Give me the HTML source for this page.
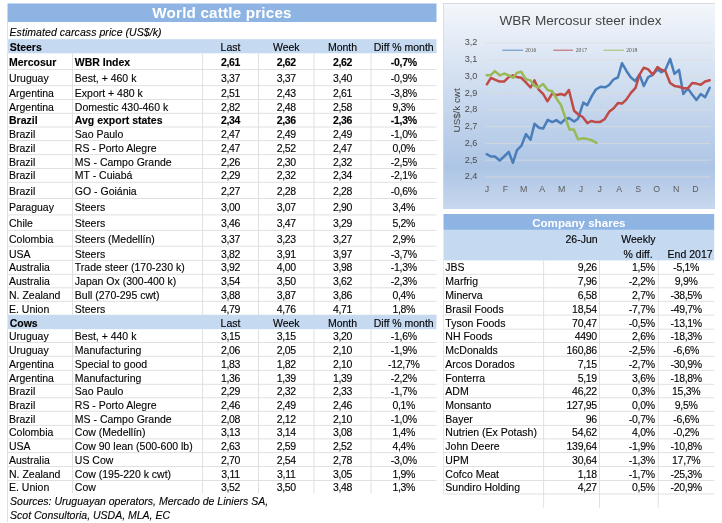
<!DOCTYPE html>
<html><head><meta charset="utf-8"><title>World cattle prices</title>
<style>
html,body{margin:0;padding:0;background:#fff;}
body{width:722px;height:523px;position:relative;overflow:hidden;font-family:"Liberation Sans",sans-serif;font-size:10.5px;color:#000;-webkit-text-stroke:0.2px rgba(0,0,0,0.6);}
#pg{position:absolute;left:0;top:0;width:722px;height:523px;overflow:hidden;filter:blur(0.4px);}
.r{position:absolute;}
#tx{position:absolute;left:0;top:0;width:722px;height:523px;}
.t{position:absolute;white-space:nowrap;}
.b{font-weight:bold;}
.n{letter-spacing:-0.3px;}
.i{font-style:italic;}
.title,.title2{-webkit-text-stroke:0;}
.title{position:absolute;text-align:center;color:#fff;font-weight:bold;font-size:15.2px;letter-spacing:0.2px;line-height:18.5px;height:18.5px;white-space:nowrap;}
.title2{position:absolute;text-align:center;color:#fff;font-weight:bold;font-size:11.6px;line-height:15.9px;height:15.9px;padding-top:0.6px;white-space:nowrap;}
.ax{font-family:"Liberation Sans",sans-serif;font-size:9.1px;fill:#4c4c4c;}
.yt{font-size:9.8px;fill:#444;}
.xl{font-size:8.8px;fill:#5c5c5c;}
.ct{font-family:"Liberation Sans",sans-serif;font-size:13.4px;fill:#454545;}
.lg{font-family:"Liberation Serif",serif;font-size:5.6px;fill:#555;}
</style></head><body><div id="pg">
<svg class="r" style="left:0;top:0" width="722" height="523" viewBox="0 0 722 523"><rect x="7.50" y="3.50" width="429.00" height="18.50" fill="#8db4e2"/>
<rect x="7.50" y="39.20" width="429.00" height="14.10" fill="#c5d9f1"/>
<rect x="7.50" y="69.00" width="429.00" height="1" fill="#dfe0e3"/>
<rect x="7.50" y="85.10" width="429.00" height="1" fill="#dfe0e3"/>
<rect x="7.50" y="99.00" width="429.00" height="1" fill="#dfe0e3"/>
<rect x="7.50" y="112.80" width="429.00" height="1" fill="#dfe0e3"/>
<rect x="7.50" y="126.50" width="429.00" height="1" fill="#dfe0e3"/>
<rect x="7.50" y="140.10" width="429.00" height="1" fill="#dfe0e3"/>
<rect x="7.50" y="154.10" width="429.00" height="1" fill="#dfe0e3"/>
<rect x="7.50" y="168.00" width="429.00" height="1" fill="#dfe0e3"/>
<rect x="7.50" y="181.80" width="429.00" height="1" fill="#dfe0e3"/>
<rect x="7.50" y="198.00" width="429.00" height="1" fill="#dfe0e3"/>
<rect x="7.50" y="214.40" width="429.00" height="1" fill="#dfe0e3"/>
<rect x="7.50" y="229.90" width="429.00" height="1" fill="#dfe0e3"/>
<rect x="7.50" y="245.70" width="429.00" height="1" fill="#dfe0e3"/>
<rect x="7.50" y="259.90" width="429.00" height="1" fill="#dfe0e3"/>
<rect x="7.50" y="273.80" width="429.00" height="1" fill="#dfe0e3"/>
<rect x="7.50" y="287.30" width="429.00" height="1" fill="#dfe0e3"/>
<rect x="7.50" y="300.80" width="429.00" height="1" fill="#dfe0e3"/>
<rect x="7.50" y="314.60" width="429.00" height="1" fill="#dfe0e3"/>
<rect x="7.00" y="53.30" width="1" height="261.80" fill="#dfe0e3"/>
<rect x="72.00" y="53.30" width="1" height="261.80" fill="#dfe0e3"/>
<rect x="202.10" y="53.30" width="1" height="261.80" fill="#dfe0e3"/>
<rect x="258.00" y="53.30" width="1" height="261.80" fill="#dfe0e3"/>
<rect x="313.50" y="53.30" width="1" height="261.80" fill="#dfe0e3"/>
<rect x="370.50" y="53.30" width="1" height="261.80" fill="#dfe0e3"/>
<rect x="7.50" y="315.10" width="429.00" height="14.10" fill="#c5d9f1"/>
<rect x="7.50" y="342.00" width="429.00" height="1" fill="#dfe0e3"/>
<rect x="7.50" y="355.80" width="429.00" height="1" fill="#dfe0e3"/>
<rect x="7.50" y="369.90" width="429.00" height="1" fill="#dfe0e3"/>
<rect x="7.50" y="383.80" width="429.00" height="1" fill="#dfe0e3"/>
<rect x="7.50" y="397.30" width="429.00" height="1" fill="#dfe0e3"/>
<rect x="7.50" y="410.80" width="429.00" height="1" fill="#dfe0e3"/>
<rect x="7.50" y="424.90" width="429.00" height="1" fill="#dfe0e3"/>
<rect x="7.50" y="438.40" width="429.00" height="1" fill="#dfe0e3"/>
<rect x="7.50" y="452.10" width="429.00" height="1" fill="#dfe0e3"/>
<rect x="7.50" y="466.00" width="429.00" height="1" fill="#dfe0e3"/>
<rect x="7.50" y="480.00" width="429.00" height="1" fill="#dfe0e3"/>
<rect x="7.00" y="329.20" width="1" height="164.10" fill="#dfe0e3"/>
<rect x="72.00" y="329.20" width="1" height="164.10" fill="#dfe0e3"/>
<rect x="202.10" y="329.20" width="1" height="164.10" fill="#dfe0e3"/>
<rect x="258.00" y="329.20" width="1" height="164.10" fill="#dfe0e3"/>
<rect x="313.50" y="329.20" width="1" height="164.10" fill="#dfe0e3"/>
<rect x="370.50" y="329.20" width="1" height="164.10" fill="#dfe0e3"/>
<rect x="7.00" y="22.00" width="1" height="17.20" fill="#dfe0e3"/>
<rect x="7.00" y="493.00" width="1" height="29.00" fill="#dfe0e3"/>
<rect x="443.50" y="214.00" width="270.70" height="15.90" fill="#8db4e2"/>
<rect x="443.50" y="229.90" width="270.70" height="30.50" fill="#c5d9f1"/>
<rect x="443.50" y="273.80" width="270.70" height="1" fill="#dfe0e3"/>
<rect x="443.50" y="287.30" width="270.70" height="1" fill="#dfe0e3"/>
<rect x="443.50" y="300.80" width="270.70" height="1" fill="#dfe0e3"/>
<rect x="443.50" y="314.60" width="270.70" height="1" fill="#dfe0e3"/>
<rect x="443.50" y="328.70" width="270.70" height="1" fill="#dfe0e3"/>
<rect x="443.50" y="342.00" width="270.70" height="1" fill="#dfe0e3"/>
<rect x="443.50" y="355.80" width="270.70" height="1" fill="#dfe0e3"/>
<rect x="443.50" y="369.90" width="270.70" height="1" fill="#dfe0e3"/>
<rect x="443.50" y="383.80" width="270.70" height="1" fill="#dfe0e3"/>
<rect x="443.50" y="397.30" width="270.70" height="1" fill="#dfe0e3"/>
<rect x="443.50" y="410.80" width="270.70" height="1" fill="#dfe0e3"/>
<rect x="443.50" y="424.90" width="270.70" height="1" fill="#dfe0e3"/>
<rect x="443.50" y="438.40" width="270.70" height="1" fill="#dfe0e3"/>
<rect x="443.50" y="452.10" width="270.70" height="1" fill="#dfe0e3"/>
<rect x="443.50" y="466.00" width="270.70" height="1" fill="#dfe0e3"/>
<rect x="443.50" y="480.00" width="270.70" height="1" fill="#dfe0e3"/>
<rect x="443.50" y="493.50" width="270.70" height="1" fill="#dfe0e3"/>
<rect x="543.10" y="260.40" width="1" height="247.20" fill="#dfe0e3"/>
<rect x="599.00" y="260.40" width="1" height="247.20" fill="#dfe0e3"/>
<rect x="657.70" y="260.40" width="1" height="247.20" fill="#dfe0e3"/>
<rect x="443.00" y="260.40" width="1" height="233.60" fill="#e6e7ea"/></svg>
<div id="tx"><div class="title" style="left:7.5px;width:429.0px;top:3.5px;">World cattle prices</div>
<div class="t i" style="left:9.50px;text-align:left;top:26.00px;height:12.00px;line-height:12.00px;letter-spacing:0.07px;">Estimated carcass price (US$/k)</div>
<div class="t b" style="left:9.70px;text-align:left;top:41.00px;height:12.00px;line-height:12.00px;">Steers</div>
<div class="t " style="left:202.60px;width:55.90px;text-align:center;top:41.00px;height:12.00px;line-height:12.00px;">Last</div>
<div class="t " style="left:258.50px;width:55.50px;text-align:center;top:41.00px;height:12.00px;line-height:12.00px;">Week</div>
<div class="t " style="left:314.00px;width:57.00px;text-align:center;top:41.00px;height:12.00px;line-height:12.00px;">Month</div>
<div class="t " style="left:371.00px;width:65.50px;text-align:center;top:41.00px;height:12.00px;line-height:12.00px;">Diff % month</div>
<div class="t b" style="left:9.00px;text-align:left;top:56.00px;height:12.00px;line-height:12.00px;">Mercosur</div>
<div class="t b" style="left:74.80px;text-align:left;top:56.00px;height:12.00px;line-height:12.00px;">WBR Index</div>
<div class="t b n" style="left:202.60px;width:55.90px;text-align:center;top:56.00px;height:12.00px;line-height:12.00px;">2,61</div>
<div class="t b n" style="left:258.50px;width:55.50px;text-align:center;top:56.00px;height:12.00px;line-height:12.00px;">2,62</div>
<div class="t b n" style="left:314.00px;width:57.00px;text-align:center;top:56.00px;height:12.00px;line-height:12.00px;">2,62</div>
<div class="t b n" style="left:371.00px;width:65.50px;text-align:center;top:56.00px;height:12.00px;line-height:12.00px;">-0,7%</div>
<div class="t " style="left:9.00px;text-align:left;top:72.00px;height:12.00px;line-height:12.00px;">Uruguay</div>
<div class="t " style="left:74.80px;text-align:left;top:72.00px;height:12.00px;line-height:12.00px;">Best, + 460 k</div>
<div class="t  n" style="left:202.60px;width:55.90px;text-align:center;top:72.00px;height:12.00px;line-height:12.00px;">3,37</div>
<div class="t  n" style="left:258.50px;width:55.50px;text-align:center;top:72.00px;height:12.00px;line-height:12.00px;">3,37</div>
<div class="t  n" style="left:314.00px;width:57.00px;text-align:center;top:72.00px;height:12.00px;line-height:12.00px;">3,40</div>
<div class="t  n" style="left:371.00px;width:65.50px;text-align:center;top:72.00px;height:12.00px;line-height:12.00px;">-0,9%</div>
<div class="t " style="left:9.00px;text-align:left;top:87.00px;height:12.00px;line-height:12.00px;">Argentina</div>
<div class="t " style="left:74.80px;text-align:left;top:87.00px;height:12.00px;line-height:12.00px;">Export + 480 k</div>
<div class="t  n" style="left:202.60px;width:55.90px;text-align:center;top:87.00px;height:12.00px;line-height:12.00px;">2,51</div>
<div class="t  n" style="left:258.50px;width:55.50px;text-align:center;top:87.00px;height:12.00px;line-height:12.00px;">2,43</div>
<div class="t  n" style="left:314.00px;width:57.00px;text-align:center;top:87.00px;height:12.00px;line-height:12.00px;">2,61</div>
<div class="t  n" style="left:371.00px;width:65.50px;text-align:center;top:87.00px;height:12.00px;line-height:12.00px;">-3,8%</div>
<div class="t " style="left:9.00px;text-align:left;top:101.00px;height:12.00px;line-height:12.00px;">Argentina</div>
<div class="t " style="left:74.80px;text-align:left;top:101.00px;height:12.00px;line-height:12.00px;">Domestic 430-460 k</div>
<div class="t  n" style="left:202.60px;width:55.90px;text-align:center;top:101.00px;height:12.00px;line-height:12.00px;">2,82</div>
<div class="t  n" style="left:258.50px;width:55.50px;text-align:center;top:101.00px;height:12.00px;line-height:12.00px;">2,48</div>
<div class="t  n" style="left:314.00px;width:57.00px;text-align:center;top:101.00px;height:12.00px;line-height:12.00px;">2,58</div>
<div class="t  n" style="left:371.00px;width:65.50px;text-align:center;top:101.00px;height:12.00px;line-height:12.00px;">9,3%</div>
<div class="t b" style="left:9.00px;text-align:left;top:114.00px;height:12.00px;line-height:12.00px;">Brazil</div>
<div class="t b" style="left:74.80px;text-align:left;top:114.00px;height:12.00px;line-height:12.00px;">Avg export states</div>
<div class="t b n" style="left:202.60px;width:55.90px;text-align:center;top:114.00px;height:12.00px;line-height:12.00px;">2,34</div>
<div class="t b n" style="left:258.50px;width:55.50px;text-align:center;top:114.00px;height:12.00px;line-height:12.00px;">2,36</div>
<div class="t b n" style="left:314.00px;width:57.00px;text-align:center;top:114.00px;height:12.00px;line-height:12.00px;">2,36</div>
<div class="t b n" style="left:371.00px;width:65.50px;text-align:center;top:114.00px;height:12.00px;line-height:12.00px;">-1,3%</div>
<div class="t " style="left:9.00px;text-align:left;top:128.00px;height:12.00px;line-height:12.00px;">Brazil</div>
<div class="t " style="left:74.80px;text-align:left;top:128.00px;height:12.00px;line-height:12.00px;">Sao Paulo</div>
<div class="t  n" style="left:202.60px;width:55.90px;text-align:center;top:128.00px;height:12.00px;line-height:12.00px;">2,47</div>
<div class="t  n" style="left:258.50px;width:55.50px;text-align:center;top:128.00px;height:12.00px;line-height:12.00px;">2,49</div>
<div class="t  n" style="left:314.00px;width:57.00px;text-align:center;top:128.00px;height:12.00px;line-height:12.00px;">2,49</div>
<div class="t  n" style="left:371.00px;width:65.50px;text-align:center;top:128.00px;height:12.00px;line-height:12.00px;">-1,0%</div>
<div class="t " style="left:9.00px;text-align:left;top:142.00px;height:12.00px;line-height:12.00px;">Brazil</div>
<div class="t " style="left:74.80px;text-align:left;top:142.00px;height:12.00px;line-height:12.00px;">RS - Porto Alegre</div>
<div class="t  n" style="left:202.60px;width:55.90px;text-align:center;top:142.00px;height:12.00px;line-height:12.00px;">2,47</div>
<div class="t  n" style="left:258.50px;width:55.50px;text-align:center;top:142.00px;height:12.00px;line-height:12.00px;">2,52</div>
<div class="t  n" style="left:314.00px;width:57.00px;text-align:center;top:142.00px;height:12.00px;line-height:12.00px;">2,47</div>
<div class="t  n" style="left:371.00px;width:65.50px;text-align:center;top:142.00px;height:12.00px;line-height:12.00px;">0,0%</div>
<div class="t " style="left:9.00px;text-align:left;top:156.00px;height:12.00px;line-height:12.00px;">Brazil</div>
<div class="t " style="left:74.80px;text-align:left;top:156.00px;height:12.00px;line-height:12.00px;">MS - Campo Grande</div>
<div class="t  n" style="left:202.60px;width:55.90px;text-align:center;top:156.00px;height:12.00px;line-height:12.00px;">2,26</div>
<div class="t  n" style="left:258.50px;width:55.50px;text-align:center;top:156.00px;height:12.00px;line-height:12.00px;">2,30</div>
<div class="t  n" style="left:314.00px;width:57.00px;text-align:center;top:156.00px;height:12.00px;line-height:12.00px;">2,32</div>
<div class="t  n" style="left:371.00px;width:65.50px;text-align:center;top:156.00px;height:12.00px;line-height:12.00px;">-2,5%</div>
<div class="t " style="left:9.00px;text-align:left;top:169.00px;height:12.00px;line-height:12.00px;">Brazil</div>
<div class="t " style="left:74.80px;text-align:left;top:169.00px;height:12.00px;line-height:12.00px;">MT - Cuiabá</div>
<div class="t  n" style="left:202.60px;width:55.90px;text-align:center;top:169.00px;height:12.00px;line-height:12.00px;">2,29</div>
<div class="t  n" style="left:258.50px;width:55.50px;text-align:center;top:169.00px;height:12.00px;line-height:12.00px;">2,32</div>
<div class="t  n" style="left:314.00px;width:57.00px;text-align:center;top:169.00px;height:12.00px;line-height:12.00px;">2,34</div>
<div class="t  n" style="left:371.00px;width:65.50px;text-align:center;top:169.00px;height:12.00px;line-height:12.00px;">-2,1%</div>
<div class="t " style="left:9.00px;text-align:left;top:185.00px;height:12.00px;line-height:12.00px;">Brazil</div>
<div class="t " style="left:74.80px;text-align:left;top:185.00px;height:12.00px;line-height:12.00px;">GO - Goiánia</div>
<div class="t  n" style="left:202.60px;width:55.90px;text-align:center;top:185.00px;height:12.00px;line-height:12.00px;">2,27</div>
<div class="t  n" style="left:258.50px;width:55.50px;text-align:center;top:185.00px;height:12.00px;line-height:12.00px;">2,28</div>
<div class="t  n" style="left:314.00px;width:57.00px;text-align:center;top:185.00px;height:12.00px;line-height:12.00px;">2,28</div>
<div class="t  n" style="left:371.00px;width:65.50px;text-align:center;top:185.00px;height:12.00px;line-height:12.00px;">-0,6%</div>
<div class="t " style="left:9.00px;text-align:left;top:201.00px;height:12.00px;line-height:12.00px;">Paraguay</div>
<div class="t " style="left:74.80px;text-align:left;top:201.00px;height:12.00px;line-height:12.00px;">Steers</div>
<div class="t  n" style="left:202.60px;width:55.90px;text-align:center;top:201.00px;height:12.00px;line-height:12.00px;">3,00</div>
<div class="t  n" style="left:258.50px;width:55.50px;text-align:center;top:201.00px;height:12.00px;line-height:12.00px;">3,07</div>
<div class="t  n" style="left:314.00px;width:57.00px;text-align:center;top:201.00px;height:12.00px;line-height:12.00px;">2,90</div>
<div class="t  n" style="left:371.00px;width:65.50px;text-align:center;top:201.00px;height:12.00px;line-height:12.00px;">3,4%</div>
<div class="t " style="left:9.00px;text-align:left;top:217.00px;height:12.00px;line-height:12.00px;">Chile</div>
<div class="t " style="left:74.80px;text-align:left;top:217.00px;height:12.00px;line-height:12.00px;">Steers</div>
<div class="t  n" style="left:202.60px;width:55.90px;text-align:center;top:217.00px;height:12.00px;line-height:12.00px;">3,46</div>
<div class="t  n" style="left:258.50px;width:55.50px;text-align:center;top:217.00px;height:12.00px;line-height:12.00px;">3,47</div>
<div class="t  n" style="left:314.00px;width:57.00px;text-align:center;top:217.00px;height:12.00px;line-height:12.00px;">3,29</div>
<div class="t  n" style="left:371.00px;width:65.50px;text-align:center;top:217.00px;height:12.00px;line-height:12.00px;">5,2%</div>
<div class="t " style="left:9.00px;text-align:left;top:233.00px;height:12.00px;line-height:12.00px;">Colombia</div>
<div class="t " style="left:74.80px;text-align:left;top:233.00px;height:12.00px;line-height:12.00px;">Steers (Medellín)</div>
<div class="t  n" style="left:202.60px;width:55.90px;text-align:center;top:233.00px;height:12.00px;line-height:12.00px;">3,37</div>
<div class="t  n" style="left:258.50px;width:55.50px;text-align:center;top:233.00px;height:12.00px;line-height:12.00px;">3,23</div>
<div class="t  n" style="left:314.00px;width:57.00px;text-align:center;top:233.00px;height:12.00px;line-height:12.00px;">3,27</div>
<div class="t  n" style="left:371.00px;width:65.50px;text-align:center;top:233.00px;height:12.00px;line-height:12.00px;">2,9%</div>
<div class="t " style="left:9.00px;text-align:left;top:248.00px;height:12.00px;line-height:12.00px;">USA</div>
<div class="t " style="left:74.80px;text-align:left;top:248.00px;height:12.00px;line-height:12.00px;">Steers</div>
<div class="t  n" style="left:202.60px;width:55.90px;text-align:center;top:248.00px;height:12.00px;line-height:12.00px;">3,82</div>
<div class="t  n" style="left:258.50px;width:55.50px;text-align:center;top:248.00px;height:12.00px;line-height:12.00px;">3,91</div>
<div class="t  n" style="left:314.00px;width:57.00px;text-align:center;top:248.00px;height:12.00px;line-height:12.00px;">3,97</div>
<div class="t  n" style="left:371.00px;width:65.50px;text-align:center;top:248.00px;height:12.00px;line-height:12.00px;">-3,7%</div>
<div class="t " style="left:9.00px;text-align:left;top:261.00px;height:12.00px;line-height:12.00px;">Australia</div>
<div class="t " style="left:74.80px;text-align:left;top:261.00px;height:12.00px;line-height:12.00px;">Trade steer (170-230 k)</div>
<div class="t  n" style="left:202.60px;width:55.90px;text-align:center;top:261.00px;height:12.00px;line-height:12.00px;">3,92</div>
<div class="t  n" style="left:258.50px;width:55.50px;text-align:center;top:261.00px;height:12.00px;line-height:12.00px;">4,00</div>
<div class="t  n" style="left:314.00px;width:57.00px;text-align:center;top:261.00px;height:12.00px;line-height:12.00px;">3,98</div>
<div class="t  n" style="left:371.00px;width:65.50px;text-align:center;top:261.00px;height:12.00px;line-height:12.00px;">-1,3%</div>
<div class="t " style="left:9.00px;text-align:left;top:275.00px;height:12.00px;line-height:12.00px;">Australia</div>
<div class="t " style="left:74.80px;text-align:left;top:275.00px;height:12.00px;line-height:12.00px;">Japan Ox (300-400 k)</div>
<div class="t  n" style="left:202.60px;width:55.90px;text-align:center;top:275.00px;height:12.00px;line-height:12.00px;">3,54</div>
<div class="t  n" style="left:258.50px;width:55.50px;text-align:center;top:275.00px;height:12.00px;line-height:12.00px;">3,50</div>
<div class="t  n" style="left:314.00px;width:57.00px;text-align:center;top:275.00px;height:12.00px;line-height:12.00px;">3,62</div>
<div class="t  n" style="left:371.00px;width:65.50px;text-align:center;top:275.00px;height:12.00px;line-height:12.00px;">-2,3%</div>
<div class="t " style="left:9.00px;text-align:left;top:289.00px;height:12.00px;line-height:12.00px;">N. Zealand</div>
<div class="t " style="left:74.80px;text-align:left;top:289.00px;height:12.00px;line-height:12.00px;">Bull (270-295 cwt)</div>
<div class="t  n" style="left:202.60px;width:55.90px;text-align:center;top:289.00px;height:12.00px;line-height:12.00px;">3,88</div>
<div class="t  n" style="left:258.50px;width:55.50px;text-align:center;top:289.00px;height:12.00px;line-height:12.00px;">3,87</div>
<div class="t  n" style="left:314.00px;width:57.00px;text-align:center;top:289.00px;height:12.00px;line-height:12.00px;">3,86</div>
<div class="t  n" style="left:371.00px;width:65.50px;text-align:center;top:289.00px;height:12.00px;line-height:12.00px;">0,4%</div>
<div class="t " style="left:9.00px;text-align:left;top:303.00px;height:12.00px;line-height:12.00px;">E. Union</div>
<div class="t " style="left:74.80px;text-align:left;top:303.00px;height:12.00px;line-height:12.00px;">Steers</div>
<div class="t  n" style="left:202.60px;width:55.90px;text-align:center;top:303.00px;height:12.00px;line-height:12.00px;">4,79</div>
<div class="t  n" style="left:258.50px;width:55.50px;text-align:center;top:303.00px;height:12.00px;line-height:12.00px;">4,76</div>
<div class="t  n" style="left:314.00px;width:57.00px;text-align:center;top:303.00px;height:12.00px;line-height:12.00px;">4,71</div>
<div class="t  n" style="left:371.00px;width:65.50px;text-align:center;top:303.00px;height:12.00px;line-height:12.00px;">1,8%</div>
<div class="t b" style="left:9.70px;text-align:left;top:317.00px;height:12.00px;line-height:12.00px;">Cows</div>
<div class="t " style="left:202.60px;width:55.90px;text-align:center;top:317.00px;height:12.00px;line-height:12.00px;">Last</div>
<div class="t " style="left:258.50px;width:55.50px;text-align:center;top:317.00px;height:12.00px;line-height:12.00px;">Week</div>
<div class="t " style="left:314.00px;width:57.00px;text-align:center;top:317.00px;height:12.00px;line-height:12.00px;">Month</div>
<div class="t " style="left:371.00px;width:65.50px;text-align:center;top:317.00px;height:12.00px;line-height:12.00px;">Diff % month</div>
<div class="t " style="left:9.00px;text-align:left;top:330.00px;height:12.00px;line-height:12.00px;">Uruguay</div>
<div class="t " style="left:74.80px;text-align:left;top:330.00px;height:12.00px;line-height:12.00px;">Best, + 440 k</div>
<div class="t  n" style="left:202.60px;width:55.90px;text-align:center;top:330.00px;height:12.00px;line-height:12.00px;">3,15</div>
<div class="t  n" style="left:258.50px;width:55.50px;text-align:center;top:330.00px;height:12.00px;line-height:12.00px;">3,15</div>
<div class="t  n" style="left:314.00px;width:57.00px;text-align:center;top:330.00px;height:12.00px;line-height:12.00px;">3,20</div>
<div class="t  n" style="left:371.00px;width:65.50px;text-align:center;top:330.00px;height:12.00px;line-height:12.00px;">-1,6%</div>
<div class="t " style="left:9.00px;text-align:left;top:344.00px;height:12.00px;line-height:12.00px;">Uruguay</div>
<div class="t " style="left:74.80px;text-align:left;top:344.00px;height:12.00px;line-height:12.00px;">Manufacturing</div>
<div class="t  n" style="left:202.60px;width:55.90px;text-align:center;top:344.00px;height:12.00px;line-height:12.00px;">2,06</div>
<div class="t  n" style="left:258.50px;width:55.50px;text-align:center;top:344.00px;height:12.00px;line-height:12.00px;">2,05</div>
<div class="t  n" style="left:314.00px;width:57.00px;text-align:center;top:344.00px;height:12.00px;line-height:12.00px;">2,10</div>
<div class="t  n" style="left:371.00px;width:65.50px;text-align:center;top:344.00px;height:12.00px;line-height:12.00px;">-1,9%</div>
<div class="t " style="left:9.00px;text-align:left;top:358.00px;height:12.00px;line-height:12.00px;">Argentina</div>
<div class="t " style="left:74.80px;text-align:left;top:358.00px;height:12.00px;line-height:12.00px;">Special to good</div>
<div class="t  n" style="left:202.60px;width:55.90px;text-align:center;top:358.00px;height:12.00px;line-height:12.00px;">1,83</div>
<div class="t  n" style="left:258.50px;width:55.50px;text-align:center;top:358.00px;height:12.00px;line-height:12.00px;">1,82</div>
<div class="t  n" style="left:314.00px;width:57.00px;text-align:center;top:358.00px;height:12.00px;line-height:12.00px;">2,10</div>
<div class="t  n" style="left:371.00px;width:65.50px;text-align:center;top:358.00px;height:12.00px;line-height:12.00px;">-12,7%</div>
<div class="t " style="left:9.00px;text-align:left;top:372.00px;height:12.00px;line-height:12.00px;">Argentina</div>
<div class="t " style="left:74.80px;text-align:left;top:372.00px;height:12.00px;line-height:12.00px;">Manufacturing</div>
<div class="t  n" style="left:202.60px;width:55.90px;text-align:center;top:372.00px;height:12.00px;line-height:12.00px;">1,36</div>
<div class="t  n" style="left:258.50px;width:55.50px;text-align:center;top:372.00px;height:12.00px;line-height:12.00px;">1,39</div>
<div class="t  n" style="left:314.00px;width:57.00px;text-align:center;top:372.00px;height:12.00px;line-height:12.00px;">1,39</div>
<div class="t  n" style="left:371.00px;width:65.50px;text-align:center;top:372.00px;height:12.00px;line-height:12.00px;">-2,2%</div>
<div class="t " style="left:9.00px;text-align:left;top:385.00px;height:12.00px;line-height:12.00px;">Brazil</div>
<div class="t " style="left:74.80px;text-align:left;top:385.00px;height:12.00px;line-height:12.00px;">Sao Paulo</div>
<div class="t  n" style="left:202.60px;width:55.90px;text-align:center;top:385.00px;height:12.00px;line-height:12.00px;">2,29</div>
<div class="t  n" style="left:258.50px;width:55.50px;text-align:center;top:385.00px;height:12.00px;line-height:12.00px;">2,32</div>
<div class="t  n" style="left:314.00px;width:57.00px;text-align:center;top:385.00px;height:12.00px;line-height:12.00px;">2,33</div>
<div class="t  n" style="left:371.00px;width:65.50px;text-align:center;top:385.00px;height:12.00px;line-height:12.00px;">-1,7%</div>
<div class="t " style="left:9.00px;text-align:left;top:399.00px;height:12.00px;line-height:12.00px;">Brazil</div>
<div class="t " style="left:74.80px;text-align:left;top:399.00px;height:12.00px;line-height:12.00px;">RS - Porto Alegre</div>
<div class="t  n" style="left:202.60px;width:55.90px;text-align:center;top:399.00px;height:12.00px;line-height:12.00px;">2,46</div>
<div class="t  n" style="left:258.50px;width:55.50px;text-align:center;top:399.00px;height:12.00px;line-height:12.00px;">2,49</div>
<div class="t  n" style="left:314.00px;width:57.00px;text-align:center;top:399.00px;height:12.00px;line-height:12.00px;">2,46</div>
<div class="t  n" style="left:371.00px;width:65.50px;text-align:center;top:399.00px;height:12.00px;line-height:12.00px;">0,1%</div>
<div class="t " style="left:9.00px;text-align:left;top:413.00px;height:12.00px;line-height:12.00px;">Brazil</div>
<div class="t " style="left:74.80px;text-align:left;top:413.00px;height:12.00px;line-height:12.00px;">MS - Campo Grande</div>
<div class="t  n" style="left:202.60px;width:55.90px;text-align:center;top:413.00px;height:12.00px;line-height:12.00px;">2,08</div>
<div class="t  n" style="left:258.50px;width:55.50px;text-align:center;top:413.00px;height:12.00px;line-height:12.00px;">2,12</div>
<div class="t  n" style="left:314.00px;width:57.00px;text-align:center;top:413.00px;height:12.00px;line-height:12.00px;">2,10</div>
<div class="t  n" style="left:371.00px;width:65.50px;text-align:center;top:413.00px;height:12.00px;line-height:12.00px;">-1,0%</div>
<div class="t " style="left:9.00px;text-align:left;top:426.00px;height:12.00px;line-height:12.00px;">Colombia</div>
<div class="t " style="left:74.80px;text-align:left;top:426.00px;height:12.00px;line-height:12.00px;">Cow (Medellín)</div>
<div class="t  n" style="left:202.60px;width:55.90px;text-align:center;top:426.00px;height:12.00px;line-height:12.00px;">3,13</div>
<div class="t  n" style="left:258.50px;width:55.50px;text-align:center;top:426.00px;height:12.00px;line-height:12.00px;">3,14</div>
<div class="t  n" style="left:314.00px;width:57.00px;text-align:center;top:426.00px;height:12.00px;line-height:12.00px;">3,08</div>
<div class="t  n" style="left:371.00px;width:65.50px;text-align:center;top:426.00px;height:12.00px;line-height:12.00px;">1,4%</div>
<div class="t " style="left:9.00px;text-align:left;top:440.00px;height:12.00px;line-height:12.00px;">USA</div>
<div class="t " style="left:74.80px;text-align:left;top:440.00px;height:12.00px;line-height:12.00px;">Cow 90 lean (500-600 lb)</div>
<div class="t  n" style="left:202.60px;width:55.90px;text-align:center;top:440.00px;height:12.00px;line-height:12.00px;">2,63</div>
<div class="t  n" style="left:258.50px;width:55.50px;text-align:center;top:440.00px;height:12.00px;line-height:12.00px;">2,59</div>
<div class="t  n" style="left:314.00px;width:57.00px;text-align:center;top:440.00px;height:12.00px;line-height:12.00px;">2,52</div>
<div class="t  n" style="left:371.00px;width:65.50px;text-align:center;top:440.00px;height:12.00px;line-height:12.00px;">4,4%</div>
<div class="t " style="left:9.00px;text-align:left;top:454.00px;height:12.00px;line-height:12.00px;">Australia</div>
<div class="t " style="left:74.80px;text-align:left;top:454.00px;height:12.00px;line-height:12.00px;">US Cow</div>
<div class="t  n" style="left:202.60px;width:55.90px;text-align:center;top:454.00px;height:12.00px;line-height:12.00px;">2,70</div>
<div class="t  n" style="left:258.50px;width:55.50px;text-align:center;top:454.00px;height:12.00px;line-height:12.00px;">2,54</div>
<div class="t  n" style="left:314.00px;width:57.00px;text-align:center;top:454.00px;height:12.00px;line-height:12.00px;">2,78</div>
<div class="t  n" style="left:371.00px;width:65.50px;text-align:center;top:454.00px;height:12.00px;line-height:12.00px;">-3,0%</div>
<div class="t " style="left:9.00px;text-align:left;top:468.00px;height:12.00px;line-height:12.00px;">N. Zealand</div>
<div class="t " style="left:74.80px;text-align:left;top:468.00px;height:12.00px;line-height:12.00px;">Cow (195-220 k cwt)</div>
<div class="t  n" style="left:202.60px;width:55.90px;text-align:center;top:468.00px;height:12.00px;line-height:12.00px;">3,11</div>
<div class="t  n" style="left:258.50px;width:55.50px;text-align:center;top:468.00px;height:12.00px;line-height:12.00px;">3,11</div>
<div class="t  n" style="left:314.00px;width:57.00px;text-align:center;top:468.00px;height:12.00px;line-height:12.00px;">3,05</div>
<div class="t  n" style="left:371.00px;width:65.50px;text-align:center;top:468.00px;height:12.00px;line-height:12.00px;">1,9%</div>
<div class="t " style="left:9.00px;text-align:left;top:481.00px;height:12.00px;line-height:12.00px;">E. Union</div>
<div class="t " style="left:74.80px;text-align:left;top:481.00px;height:12.00px;line-height:12.00px;">Cow</div>
<div class="t  n" style="left:202.60px;width:55.90px;text-align:center;top:481.00px;height:12.00px;line-height:12.00px;">3,52</div>
<div class="t  n" style="left:258.50px;width:55.50px;text-align:center;top:481.00px;height:12.00px;line-height:12.00px;">3,50</div>
<div class="t  n" style="left:314.00px;width:57.00px;text-align:center;top:481.00px;height:12.00px;line-height:12.00px;">3,48</div>
<div class="t  n" style="left:371.00px;width:65.50px;text-align:center;top:481.00px;height:12.00px;line-height:12.00px;">1,3%</div>
<div class="t i" style="left:10.10px;text-align:left;top:495.00px;height:12.00px;line-height:12.00px;">Sources: Uruguayan operators, Mercado de Liniers SA,</div>
<div class="t i" style="left:10.10px;text-align:left;top:509.00px;height:12.00px;line-height:12.00px;">Scot Consultoria, USDA, MLA, EC</div>
<div class="title2" style="left:443.5px;width:270.70000000000005px;top:214px;">Company shares</div>
<div class="t " style="left:543.60px;width:54.00px;text-align:right;top:233.00px;height:12.00px;line-height:12.00px;">26-Jun</div>
<div class="t " style="left:599.50px;width:56.00px;text-align:right;top:233.00px;height:12.00px;line-height:12.00px;">Weekly</div>
<div class="t " style="left:599.50px;width:53.10px;text-align:right;top:248.00px;height:12.00px;line-height:12.00px;">% diff.</div>
<div class="t " style="left:658.20px;width:54.40px;text-align:right;top:248.00px;height:12.00px;line-height:12.00px;">End 2017</div>
<div class="t " style="left:445.30px;text-align:left;top:261.00px;height:12.00px;line-height:12.00px;">JBS</div>
<div class="t n" style="left:543.60px;width:53.30px;text-align:right;top:261.00px;height:12.00px;line-height:12.00px;">9,26</div>
<div class="t n" style="left:599.50px;width:55.30px;text-align:right;top:261.00px;height:12.00px;line-height:12.00px;">1,5%</div>
<div class="t n" style="left:658.20px;width:56.00px;text-align:center;top:261.00px;height:12.00px;line-height:12.00px;">-5,1%</div>
<div class="t " style="left:445.30px;text-align:left;top:275.00px;height:12.00px;line-height:12.00px;">Marfrig</div>
<div class="t n" style="left:543.60px;width:53.30px;text-align:right;top:275.00px;height:12.00px;line-height:12.00px;">7,96</div>
<div class="t n" style="left:599.50px;width:55.30px;text-align:right;top:275.00px;height:12.00px;line-height:12.00px;">-2,2%</div>
<div class="t n" style="left:658.20px;width:56.00px;text-align:center;top:275.00px;height:12.00px;line-height:12.00px;">9,9%</div>
<div class="t " style="left:445.30px;text-align:left;top:289.00px;height:12.00px;line-height:12.00px;">Minerva</div>
<div class="t n" style="left:543.60px;width:53.30px;text-align:right;top:289.00px;height:12.00px;line-height:12.00px;">6,58</div>
<div class="t n" style="left:599.50px;width:55.30px;text-align:right;top:289.00px;height:12.00px;line-height:12.00px;">2,7%</div>
<div class="t n" style="left:658.20px;width:56.00px;text-align:center;top:289.00px;height:12.00px;line-height:12.00px;">-38,5%</div>
<div class="t " style="left:445.30px;text-align:left;top:303.00px;height:12.00px;line-height:12.00px;">Brasil Foods</div>
<div class="t n" style="left:543.60px;width:53.30px;text-align:right;top:303.00px;height:12.00px;line-height:12.00px;">18,54</div>
<div class="t n" style="left:599.50px;width:55.30px;text-align:right;top:303.00px;height:12.00px;line-height:12.00px;">-7,7%</div>
<div class="t n" style="left:658.20px;width:56.00px;text-align:center;top:303.00px;height:12.00px;line-height:12.00px;">-49,7%</div>
<div class="t " style="left:445.30px;text-align:left;top:317.00px;height:12.00px;line-height:12.00px;">Tyson Foods</div>
<div class="t n" style="left:543.60px;width:53.30px;text-align:right;top:317.00px;height:12.00px;line-height:12.00px;">70,47</div>
<div class="t n" style="left:599.50px;width:55.30px;text-align:right;top:317.00px;height:12.00px;line-height:12.00px;">-0,5%</div>
<div class="t n" style="left:658.20px;width:56.00px;text-align:center;top:317.00px;height:12.00px;line-height:12.00px;">-13,1%</div>
<div class="t " style="left:445.30px;text-align:left;top:330.00px;height:12.00px;line-height:12.00px;">NH Foods</div>
<div class="t n" style="left:543.60px;width:53.30px;text-align:right;top:330.00px;height:12.00px;line-height:12.00px;">4490</div>
<div class="t n" style="left:599.50px;width:55.30px;text-align:right;top:330.00px;height:12.00px;line-height:12.00px;">2,6%</div>
<div class="t n" style="left:658.20px;width:56.00px;text-align:center;top:330.00px;height:12.00px;line-height:12.00px;">-18,3%</div>
<div class="t " style="left:445.30px;text-align:left;top:344.00px;height:12.00px;line-height:12.00px;">McDonalds</div>
<div class="t n" style="left:543.60px;width:53.30px;text-align:right;top:344.00px;height:12.00px;line-height:12.00px;">160,86</div>
<div class="t n" style="left:599.50px;width:55.30px;text-align:right;top:344.00px;height:12.00px;line-height:12.00px;">-2,5%</div>
<div class="t n" style="left:658.20px;width:56.00px;text-align:center;top:344.00px;height:12.00px;line-height:12.00px;">-6,6%</div>
<div class="t " style="left:445.30px;text-align:left;top:358.00px;height:12.00px;line-height:12.00px;">Arcos Dorados</div>
<div class="t n" style="left:543.60px;width:53.30px;text-align:right;top:358.00px;height:12.00px;line-height:12.00px;">7,15</div>
<div class="t n" style="left:599.50px;width:55.30px;text-align:right;top:358.00px;height:12.00px;line-height:12.00px;">-2,7%</div>
<div class="t n" style="left:658.20px;width:56.00px;text-align:center;top:358.00px;height:12.00px;line-height:12.00px;">-30,9%</div>
<div class="t " style="left:445.30px;text-align:left;top:372.00px;height:12.00px;line-height:12.00px;">Fonterra</div>
<div class="t n" style="left:543.60px;width:53.30px;text-align:right;top:372.00px;height:12.00px;line-height:12.00px;">5,19</div>
<div class="t n" style="left:599.50px;width:55.30px;text-align:right;top:372.00px;height:12.00px;line-height:12.00px;">3,6%</div>
<div class="t n" style="left:658.20px;width:56.00px;text-align:center;top:372.00px;height:12.00px;line-height:12.00px;">-18,8%</div>
<div class="t " style="left:445.30px;text-align:left;top:385.00px;height:12.00px;line-height:12.00px;">ADM</div>
<div class="t n" style="left:543.60px;width:53.30px;text-align:right;top:385.00px;height:12.00px;line-height:12.00px;">46,22</div>
<div class="t n" style="left:599.50px;width:55.30px;text-align:right;top:385.00px;height:12.00px;line-height:12.00px;">0,3%</div>
<div class="t n" style="left:658.20px;width:56.00px;text-align:center;top:385.00px;height:12.00px;line-height:12.00px;">15,3%</div>
<div class="t " style="left:445.30px;text-align:left;top:399.00px;height:12.00px;line-height:12.00px;">Monsanto</div>
<div class="t n" style="left:543.60px;width:53.30px;text-align:right;top:399.00px;height:12.00px;line-height:12.00px;">127,95</div>
<div class="t n" style="left:599.50px;width:55.30px;text-align:right;top:399.00px;height:12.00px;line-height:12.00px;">0,0%</div>
<div class="t n" style="left:658.20px;width:56.00px;text-align:center;top:399.00px;height:12.00px;line-height:12.00px;">9,5%</div>
<div class="t " style="left:445.30px;text-align:left;top:413.00px;height:12.00px;line-height:12.00px;">Bayer</div>
<div class="t n" style="left:543.60px;width:53.30px;text-align:right;top:413.00px;height:12.00px;line-height:12.00px;">96</div>
<div class="t n" style="left:599.50px;width:55.30px;text-align:right;top:413.00px;height:12.00px;line-height:12.00px;">-0,7%</div>
<div class="t n" style="left:658.20px;width:56.00px;text-align:center;top:413.00px;height:12.00px;line-height:12.00px;">-6,6%</div>
<div class="t " style="left:445.30px;text-align:left;top:426.00px;height:12.00px;line-height:12.00px;">Nutrien (Ex Potash)</div>
<div class="t n" style="left:543.60px;width:53.30px;text-align:right;top:426.00px;height:12.00px;line-height:12.00px;">54,62</div>
<div class="t n" style="left:599.50px;width:55.30px;text-align:right;top:426.00px;height:12.00px;line-height:12.00px;">4,0%</div>
<div class="t n" style="left:658.20px;width:56.00px;text-align:center;top:426.00px;height:12.00px;line-height:12.00px;">-0,2%</div>
<div class="t " style="left:445.30px;text-align:left;top:440.00px;height:12.00px;line-height:12.00px;">John Deere</div>
<div class="t n" style="left:543.60px;width:53.30px;text-align:right;top:440.00px;height:12.00px;line-height:12.00px;">139,64</div>
<div class="t n" style="left:599.50px;width:55.30px;text-align:right;top:440.00px;height:12.00px;line-height:12.00px;">-1,9%</div>
<div class="t n" style="left:658.20px;width:56.00px;text-align:center;top:440.00px;height:12.00px;line-height:12.00px;">-10,8%</div>
<div class="t " style="left:445.30px;text-align:left;top:454.00px;height:12.00px;line-height:12.00px;">UPM</div>
<div class="t n" style="left:543.60px;width:53.30px;text-align:right;top:454.00px;height:12.00px;line-height:12.00px;">30,64</div>
<div class="t n" style="left:599.50px;width:55.30px;text-align:right;top:454.00px;height:12.00px;line-height:12.00px;">-1,3%</div>
<div class="t n" style="left:658.20px;width:56.00px;text-align:center;top:454.00px;height:12.00px;line-height:12.00px;">17,7%</div>
<div class="t " style="left:445.30px;text-align:left;top:468.00px;height:12.00px;line-height:12.00px;">Cofco Meat</div>
<div class="t n" style="left:543.60px;width:53.30px;text-align:right;top:468.00px;height:12.00px;line-height:12.00px;">1,18</div>
<div class="t n" style="left:599.50px;width:55.30px;text-align:right;top:468.00px;height:12.00px;line-height:12.00px;">-1,7%</div>
<div class="t n" style="left:658.20px;width:56.00px;text-align:center;top:468.00px;height:12.00px;line-height:12.00px;">-25,3%</div>
<div class="t " style="left:445.30px;text-align:left;top:481.00px;height:12.00px;line-height:12.00px;">Sundiro Holding</div>
<div class="t n" style="left:543.60px;width:53.30px;text-align:right;top:481.00px;height:12.00px;line-height:12.00px;">4,27</div>
<div class="t n" style="left:599.50px;width:55.30px;text-align:right;top:481.00px;height:12.00px;line-height:12.00px;">0,5%</div>
<div class="t n" style="left:658.20px;width:56.00px;text-align:center;top:481.00px;height:12.00px;line-height:12.00px;">-20,9%</div></div>
<svg class="r" style="left:443.0px;top:3.0px" width="272.0" height="206.0" viewBox="0 0 272.0 206.0">
<defs><linearGradient id="g" x1="0" y1="0" x2="0" y2="1"><stop offset="0" stop-color="#f4f7fb"/><stop offset="0.47" stop-color="#c9d9ee"/><stop offset="0.8" stop-color="#adc5e5"/><stop offset="1" stop-color="#c8d8ee"/></linearGradient></defs>
<rect x="0" y="0" width="272.0" height="206.0" fill="url(#g)"/>
<rect x="0" y="0" width="272.0" height="1" fill="#d7dbe0"/>
<rect x="0" y="0" width="1" height="206.0" fill="#d3d9e2" opacity="0.8"/>
<line x1="42.2" x2="267.4" y1="39.90" y2="39.90" stroke="#dddcd9" stroke-width="1" opacity="0.7"/>
<text x="34.4" y="42.35" text-anchor="end" class="ax">3,2</text>
<line x1="42.2" x2="267.4" y1="56.65" y2="56.65" stroke="#dddcd9" stroke-width="1" opacity="0.7"/>
<text x="34.4" y="59.10" text-anchor="end" class="ax">3,1</text>
<line x1="42.2" x2="267.4" y1="73.40" y2="73.40" stroke="#dddcd9" stroke-width="1" opacity="0.7"/>
<text x="34.4" y="75.85" text-anchor="end" class="ax">3,0</text>
<line x1="42.2" x2="267.4" y1="90.15" y2="90.15" stroke="#dddcd9" stroke-width="1" opacity="0.7"/>
<text x="34.4" y="92.60" text-anchor="end" class="ax">2,9</text>
<line x1="42.2" x2="267.4" y1="106.90" y2="106.90" stroke="#dddcd9" stroke-width="1" opacity="0.7"/>
<text x="34.4" y="109.35" text-anchor="end" class="ax">2,8</text>
<line x1="42.2" x2="267.4" y1="123.65" y2="123.65" stroke="#dddcd9" stroke-width="1" opacity="0.7"/>
<text x="34.4" y="126.10" text-anchor="end" class="ax">2,7</text>
<line x1="42.2" x2="267.4" y1="140.40" y2="140.40" stroke="#dddcd9" stroke-width="1" opacity="0.7"/>
<text x="34.4" y="142.85" text-anchor="end" class="ax">2,6</text>
<line x1="42.2" x2="267.4" y1="157.15" y2="157.15" stroke="#dddcd9" stroke-width="1" opacity="0.7"/>
<text x="34.4" y="159.60" text-anchor="end" class="ax">2,5</text>
<line x1="42.2" x2="267.4" y1="173.90" y2="173.90" stroke="#dddcd9" stroke-width="1" opacity="0.7"/>
<text x="34.4" y="176.35" text-anchor="end" class="ax">2,4</text>
<text x="43.9" y="188.9" text-anchor="middle" class="ax xl">J</text>
<text x="62.5" y="188.9" text-anchor="middle" class="ax xl">F</text>
<text x="80.6" y="188.9" text-anchor="middle" class="ax xl">M</text>
<text x="99.3" y="188.9" text-anchor="middle" class="ax xl">A</text>
<text x="118.6" y="188.9" text-anchor="middle" class="ax xl">M</text>
<text x="137.9" y="188.9" text-anchor="middle" class="ax xl">J</text>
<text x="156.6" y="188.9" text-anchor="middle" class="ax xl">J</text>
<text x="176.2" y="188.9" text-anchor="middle" class="ax xl">A</text>
<text x="195.2" y="188.9" text-anchor="middle" class="ax xl">S</text>
<text x="213.6" y="188.9" text-anchor="middle" class="ax xl">O</text>
<text x="233.2" y="188.9" text-anchor="middle" class="ax xl">N</text>
<text x="252.5" y="188.9" text-anchor="middle" class="ax xl">D</text>
<text transform="translate(16.7,107.4) rotate(-90)" text-anchor="middle" class="ax yt">US$/k cwt</text>
<text x="137.5" y="21.9" text-anchor="middle" class="ct" textLength="162" lengthAdjust="spacingAndGlyphs">WBR Mercosur steer index</text>
<line x1="59.3" x2="80.1" y1="47.2" y2="47.2" stroke="#4a7ebb" stroke-width="0.9"/>
<text x="82.2" y="49.0" class="lg">2016</text>
<line x1="110.2" x2="130.0" y1="47.2" y2="47.2" stroke="#be4b48" stroke-width="0.9"/>
<text x="132.8" y="49.0" class="lg">2017</text>
<line x1="160.4" x2="181.0" y1="47.2" y2="47.2" stroke="#98b954" stroke-width="0.9"/>
<text x="183.2" y="49.0" class="lg">2018</text>
<polyline points="43.7,151.2 47.9,153.5 51.9,153.5 56.7,157.5 61.1,153.5 65.7,148.9 69.9,159.8 74.0,147.2 78.5,142.6 82.9,131.1 87.5,136.8 91.5,120.8 96.1,124.8 100.1,125.6 104.7,116.8 109.3,119.1 113.3,117.1 117.9,120.3 121.9,116.3 125.9,114.9 131.1,118.6 135.1,115.7 140.3,99.6 144.2,102.3 148.9,92.9 152.9,86.5 157.5,83.7 162.1,84.3 166.1,82.0 170.7,76.3 174.9,74.5 179.0,60.2 183.3,67.7 187.9,74.5 192.2,78.0 196.5,71.7 200.8,83.0 205.2,74.1 209.8,71.8 214.4,66.4 218.4,69.2 222.3,67.0 227.1,55.9 231.5,70.9 236.0,66.8 240.3,91.0 244.9,85.5 249.2,91.6 253.4,97.0 257.8,91.0 262.1,94.2 266.7,84.7" fill="none" stroke="#4a7ebb" stroke-width="2.5" stroke-linejoin="round" stroke-linecap="round"/>
<polyline points="43.9,81.3 47.9,74.8 51.9,76.7 56.5,78.6 61.1,78.6 65.7,74.2 69.7,72.3 73.7,73.9 78.3,74.8 82.9,79.4 87.5,84.5 91.5,77.4 95.5,86.3 100.1,90.9 104.5,98.3 109.3,90.3 113.0,92.2 117.9,91.0 121.9,92.2 125.9,87.0 131.1,107.7 135.7,111.7 139.7,114.0 144.3,120.1 148.3,118.0 152.9,119.1 156.9,119.1 161.5,116.3 166.1,108.8 170.7,105.2 174.9,100.1 179.0,100.6 183.3,96.6 187.9,89.9 192.5,84.9 196.5,71.7 200.8,64.7 205.2,66.4 209.8,71.6 214.4,64.1 218.4,66.7 222.3,67.9 227.1,80.0 231.5,82.9 236.0,83.8 240.3,85.2 244.9,85.2 249.2,80.0 253.5,80.6 257.8,81.8 262.1,78.5 266.7,77.2" fill="none" stroke="#be4b48" stroke-width="2.5" stroke-linejoin="round" stroke-linecap="round"/>
<polyline points="43.7,72.3 47.9,71.9 51.9,68.1 57.1,72.5 61.1,70.5 65.7,72.3 70.3,74.8 73.7,69.9 78.3,68.8 82.9,76.3 87.5,77.4 90.9,82.5 95.5,84.5 100.1,81.1 104.7,87.1 109.3,88.3 113.9,96.2 117.9,101.9 121.9,113.4 126.5,126.6 130.8,126.4 135.1,136.4 140.3,135.2 146.0,136.4 150.0,137.8 153.5,139.8" fill="none" stroke="#98b954" stroke-width="2.5" stroke-linejoin="round" stroke-linecap="round"/>
</svg>
</div></body></html>
